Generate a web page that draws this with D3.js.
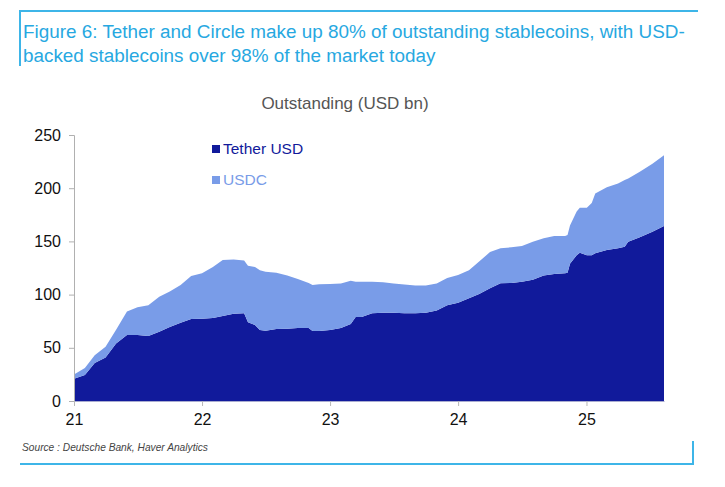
<!DOCTYPE html>
<html><head><meta charset="utf-8">
<script src="https://cdn.jsdelivr.net/npm/d3@7"></script>
<style>
html,body{margin:0;padding:0;background:#fff;}
svg{display:block;font-family:"Liberation Sans",Arial,sans-serif;}
</style></head>
<body><svg id="c" width="725" height="487"></svg>
<script>
const dates = [
 "2021-01-01","2021-02-01","2021-03-01","2021-04-01","2021-05-01","2021-06-01","2021-07-01","2021-08-01","2021-09-01","2021-10-01","2021-11-01","2021-12-01",
 "2022-01-01","2022-02-01","2022-03-01","2022-04-01","2022-05-01","2022-05-12","2022-06-01","2022-06-15","2022-07-01","2022-08-01","2022-09-01","2022-10-01","2022-11-01","2022-11-12","2022-12-01",
 "2023-01-01","2023-02-01","2023-03-01","2023-03-15","2023-04-01","2023-05-01","2023-06-01","2023-07-01","2023-08-01","2023-09-01","2023-10-01","2023-11-01","2023-12-01",
 "2024-01-01","2024-02-01","2024-03-01","2024-04-01","2024-05-01","2024-06-01","2024-07-01","2024-08-01","2024-09-01","2024-10-01","2024-11-01","2024-11-08",
 "2024-11-15","2024-12-04","2024-12-13","2025-01-02","2025-01-16","2025-01-26","2025-02-28","2025-04-01","2025-04-20","2025-04-30","2025-06-02","2025-07-08","2025-08-10"
];
const tetherUSD = [
 21,24.4,35.7,41,54,62,62,61,65,69.5,73.6,77,
 77.4,78,80,82,82.4,74,71.4,66.7,66,67.6,68,68.5,68.5,65.7,65.7,
 66.7,68.5,72.4,79,79,82.4,83,83,82.4,82.4,83,85,90,
 92.4,96.5,100.5,106,110.6,111,112,114,118,119.3,120,120.5,
 129,137,139.4,137,137,138.8,142,143.5,145,149.7,154,159,164.5
];
const usdc = [
 4,6.6,7.3,10,13,22,26,29,33,33.5,35.4,40.5,
 42.6,48,52.5,51,49.6,53,54.6,56.3,55.5,53,50,46.2,42.5,43.3,44.1,
 43.3,42,40.6,33,33,29.6,28.5,27.5,27.2,26.2,25.6,25.5,25.6,
 26.1,26.5,30.5,34,32.9,33.5,33.7,35.7,35,35.7,35,35.5,
 36,41,42.3,44.7,49,56.2,59,61,62.7,59.3,61.5,64,66.5
];
const seriesNames = ["Tether USD","USDC"];
const yTicks = [0,50,100,150,200,250];
const xTickYears = ["2021","2022","2023","2024","2025"];
const xTickLabels = ["21","22","23","24","25"];
const titleLines = ["Figure 6: Tether and Circle make up 80% of outstanding stablecoins, with USD-","backed stablecoins over 98% of the market today"];
const subtitle = "Outstanding (USD bn)";
const source = "Source : Deutsche Bank, Haver Analytics";

const colors = {"Tether USD":"#111a9b","USDC":"#799ce8"};
const parse = d3.timeParse("%Y-%m-%d");
const table = dates.map((d,i)=>({date:parse(d),"Tether USD":tetherUSD[i],"USDC":usdc[i]}));

const svg = d3.select("#c");
const L=74, R=664, T=135, B=401;
const x = d3.scaleTime().domain(d3.extent(table,d=>d.date)).range([L,R]);
const y = d3.scaleLinear().domain([0,250]).range([B,T]);

// frame
const blue="#3db5e8";
svg.append("path").attr("d","M20,66V11H698").attr("fill","none").attr("stroke",blue).attr("stroke-width",2);
svg.append("path").attr("d","M20,464H693V441").attr("fill","none").attr("stroke",blue).attr("stroke-width",2);

// title
const tl = svg.append("g");
titleLines.forEach((t,i)=>{
  tl.append("text").attr("x",23).attr("y",38+i*24).attr("fill","#27a8e1")
    .attr("font-size",17.5).text(t);
});
const first = tl.select("text").node();
const w = first.getComputedTextLength();
if (w>0){ const fs = 17.5*662/w; tl.selectAll("text").attr("font-size",fs); }

svg.append("text").attr("x",345).attr("y",109).attr("text-anchor","middle")
  .attr("font-size",17).attr("fill","#555").text(subtitle);

// stacked areas
const stack = d3.stack().keys(seriesNames);
const layers = stack(table);
const area = d3.area().x(d=>x(d.data.date)).y0(d=>y(d[0])).y1(d=>y(d[1]));
svg.append("g").selectAll("path").data(layers).join("path")
  .attr("d",area).attr("fill",d=>colors[d.key]);

// y axis
const yAxis = d3.axisLeft(y).tickValues(yTicks).tickSize(5).tickPadding(8);
const gy = svg.append("g").attr("transform",`translate(${L},0)`).call(yAxis);
gy.select(".domain").attr("stroke","#b0b0b0");
gy.selectAll(".tick line").attr("stroke","#b0b0b0");
gy.selectAll(".tick text").attr("font-size",16).attr("fill","#111").attr("font-family","Liberation Sans, Arial, sans-serif");

// x axis
const xAxis = d3.axisBottom(x).tickValues(xTickYears.map(s=>parse(s+"-01-01")))
  .tickFormat((d,i)=>xTickLabels[i]).tickSize(5).tickSizeOuter(0).tickPadding(8);
const gx = svg.append("g").attr("transform",`translate(0,${B})`).call(xAxis);
gx.select(".domain").attr("stroke","#a9acd0");
gx.selectAll(".tick line").attr("stroke","#b8b8b8");
gx.selectAll(".tick text").attr("font-size",16).attr("fill","#111").attr("font-family","Liberation Sans, Arial, sans-serif");

// legend
const lg = svg.append("g");
seriesNames.forEach((k,i)=>{
  const yy = 154 + i*31;
  lg.append("rect").attr("x",212).attr("y",yy-9).attr("width",8).attr("height",8).attr("fill",colors[k]);
  lg.append("text").attr("x",223).attr("y",yy).attr("font-size",15.5).attr("fill",colors[k]).text(k);
});

svg.append("text").attr("x",22).attr("y",451).attr("font-size",10.2).attr("font-style","italic")
  .attr("fill","#444").text(source);
</script>
</body></html>
